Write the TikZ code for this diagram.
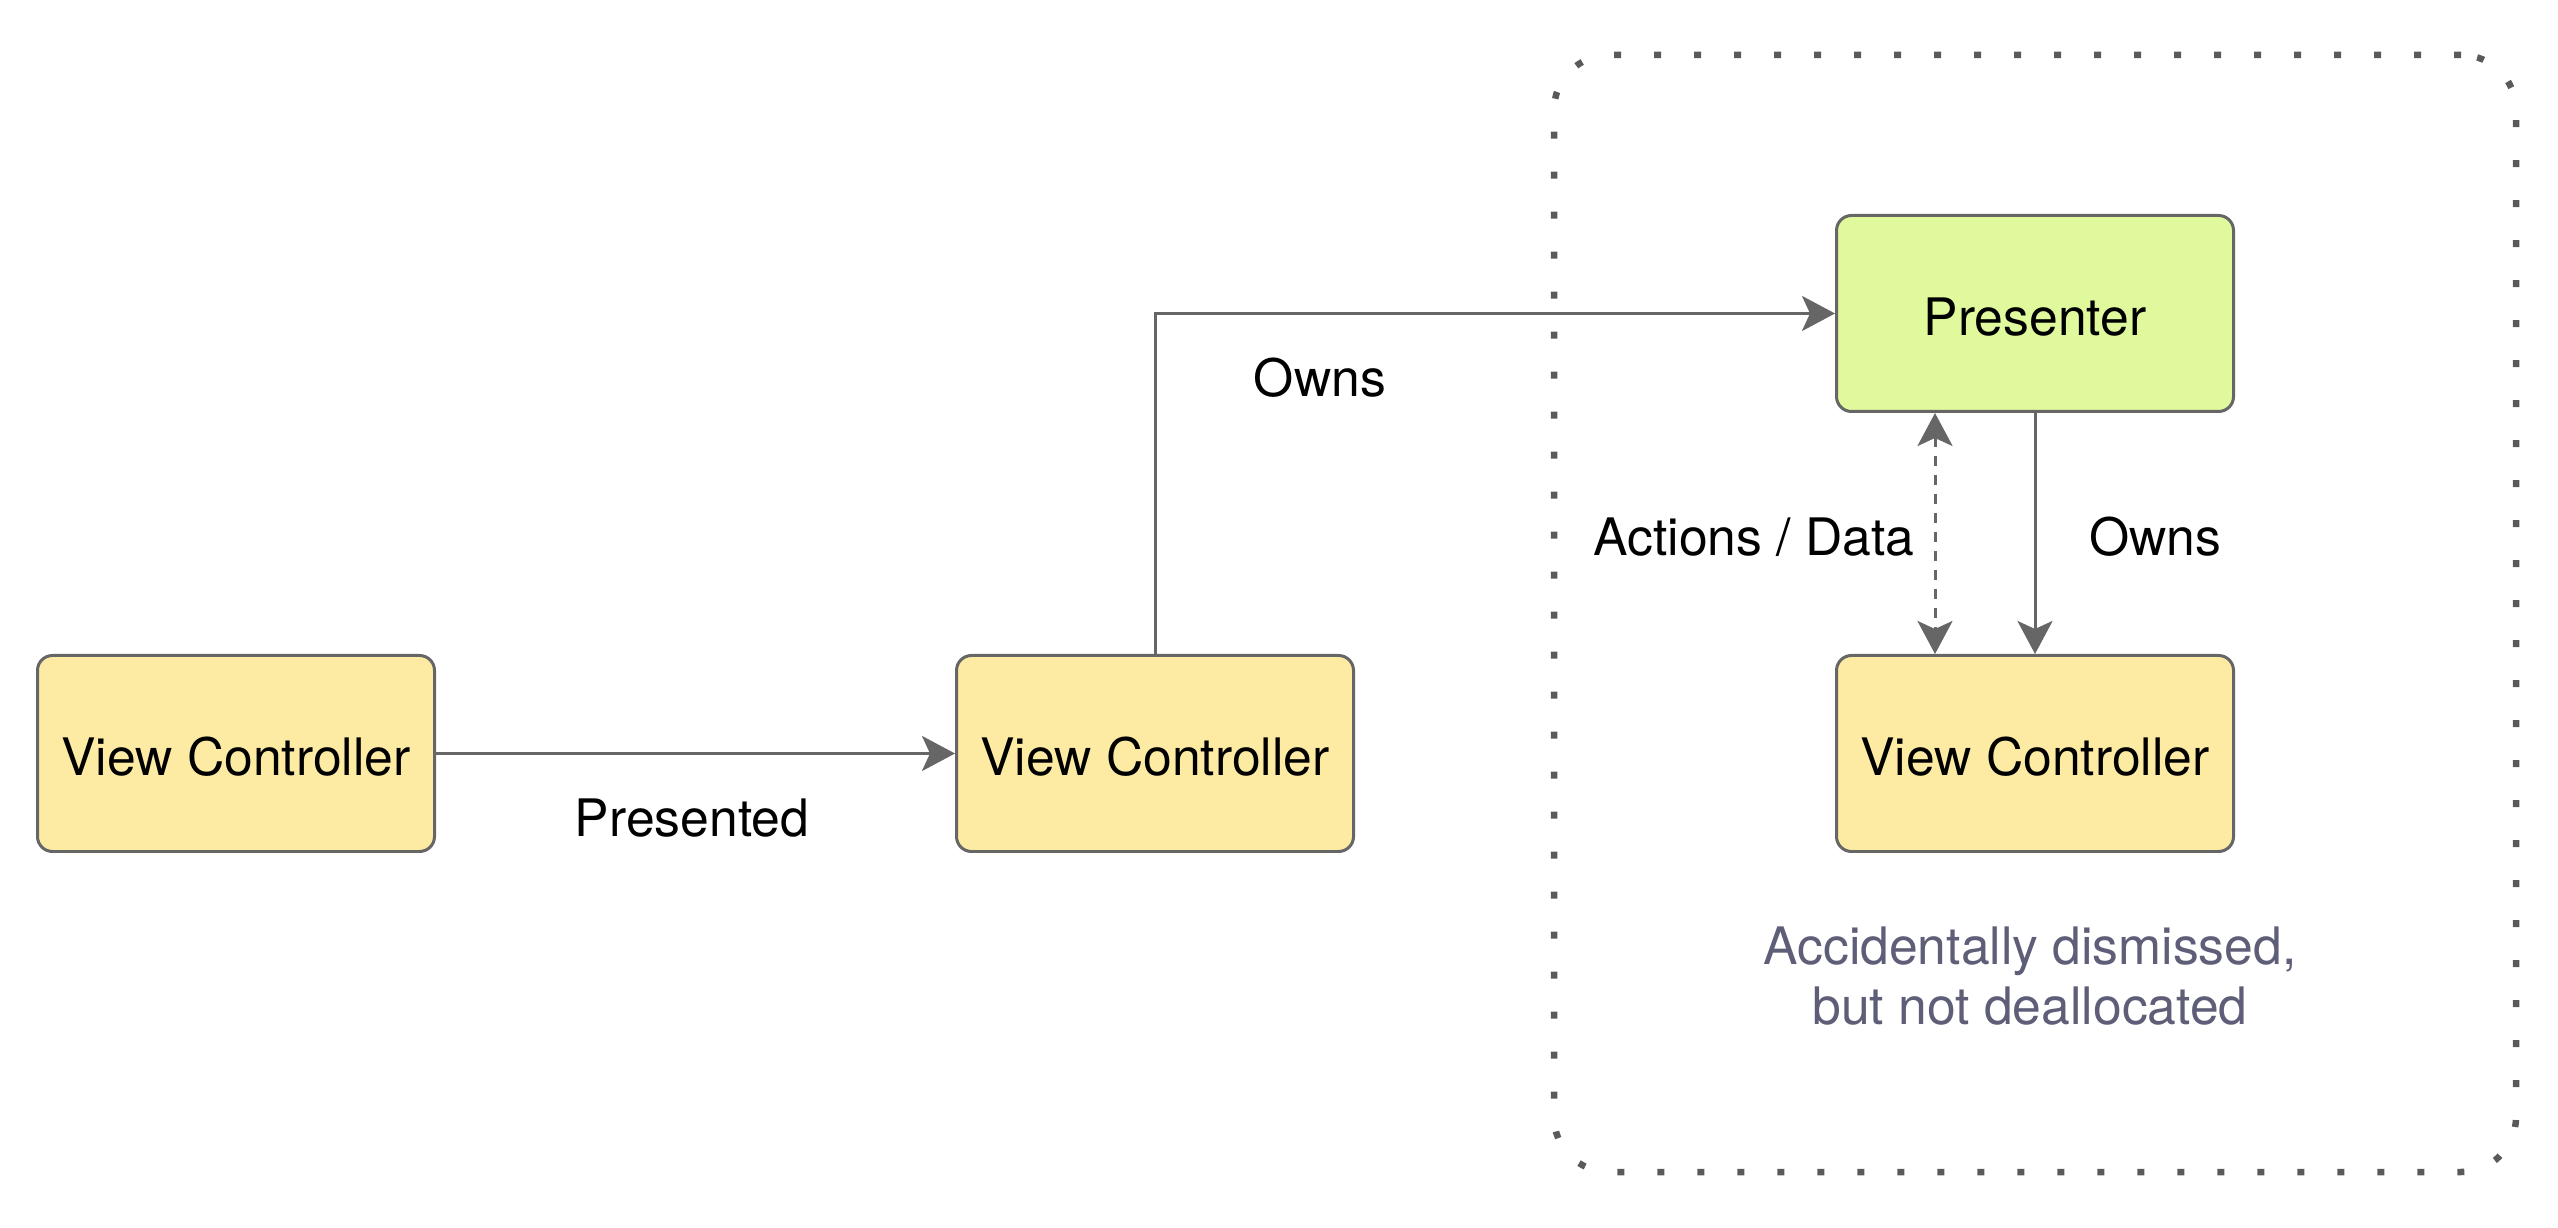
\documentclass[tikz,border=0pt]{standalone}
\usepackage{fontspec}
\setmainfont{TeX Gyre Heros}
\usetikzlibrary{arrows.meta}

\definecolor{linegray}{HTML}{666666}
\definecolor{dotgray}{HTML}{5A5A5A}
\definecolor{vcfill}{HTML}{FDEBA4}
\definecolor{presfill}{HTML}{E0F99D}
\definecolor{notecol}{HTML}{5E5E78}

\newcommand\diagfont{\fontsize{14.7pt}{17.07pt}\selectfont}

\begin{document}
\begin{tikzpicture}[
    box/.style={draw=linegray, line width=0.03cm, rounded corners=0.15cm,
      minimum width=3.97cm, minimum height=1.96cm, inner sep=0pt,
      text height=0.44cm, text depth=0pt, font=\diagfont},
    vcbox/.style={box, fill=vcfill},
    presbox/.style={box, fill=presfill},
    lbl/.style={anchor=base, inner sep=0pt, font=\diagfont},
    link/.style={draw=linegray, line width=0.03cm,
      -{Stealth[length=0.33cm, width=0.35cm, inset=0.08cm]}}
  ]

        \useasboundingbox (0,0) rectangle (25.58,-12.28);

        \node (zone) at (20.35,-6.135) [draw=dotgray, line width=0.065cm,
          dash pattern=on 0.07cm off 0.33cm, rounded corners=0.55cm,
          minimum width=9.62cm, minimum height=11.17cm] {};

        \begin{scope}[every node/.style={vcbox}]
          \node (vc1) at (2.36,-7.535)  {View Controller};
          \node (vc2) at (11.55,-7.535) {View Controller};
          \node (vc3) at (20.35,-7.535) {View Controller};
        \end{scope}
        \node[presbox] (pres) at (20.35,-3.135) {Presenter};

        \begin{scope}[every node/.style={lbl}]
          \node (presented) at (6.92,-8.37)  {Presented};
          \node (owns1)     at (13.20,-3.97) {Owns};
          \node (actions)   at (17.54,-5.56) {Actions / Data};
          \node (owns2)     at (21.55,-5.56) {Owns};
        \end{scope}

        \node (note) at (20.30,-9.26) [anchor=north, inner sep=0pt, align=center,
          font=\diagfont, text=notecol] {Accidentally dismissed,\\but not deallocated};

        \begin{scope}[every path/.style={link}]
          \path (vc1.east) -- (vc2.west);
          \path (vc2.north) |- (pres.west);
          \path (pres.south) -- (vc3.north);
          \path[{Stealth[length=0.33cm, width=0.35cm, inset=0.08cm]}-{Stealth[length=0.33cm, width=0.35cm, inset=0.08cm]},
            dash pattern=on 0.1cm off 0.09cm]
            ([xshift=-1cm]pres.south) -- ([xshift=-1cm]vc3.north);
        \end{scope}

      \end{tikzpicture}
\end{document}
